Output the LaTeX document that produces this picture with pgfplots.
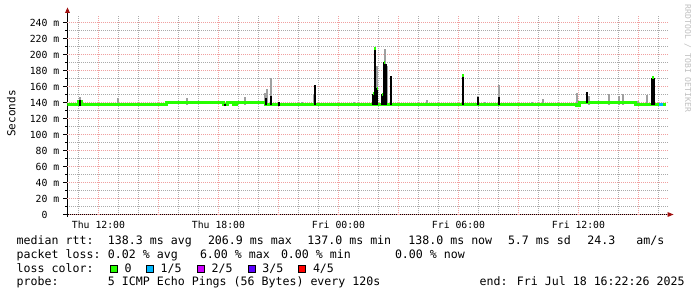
\documentclass[border=0pt]{standalone}
\usepackage{pgfplots}
\pgfplotsset{compat=1.18}
\usepackage{fontspec}
\setmainfont{DejaVu Sans Mono}
\definecolor{medgreen}{HTML}{26FF00}
\definecolor{lossblue}{HTML}{00B8FF}
\definecolor{lossmag}{HTML}{CE00FF}
\definecolor{losspurp}{HTML}{5A00FF}
\definecolor{lossred}{HTML}{FF0000}
\definecolor{gridred}{RGB}{240,160,160}
\definecolor{gridgray}{RGB}{170,170,170}
\definecolor{smoke}{RGB}{160,160,160}
\definecolor{arrowred}{HTML}{A01010}
\newcommand\lgd{\fontsize{11.6}{13}\selectfont}
\newcommand\tkf{\fontsize{9.8}{11}\selectfont}
\begin{document}
\begin{tikzpicture}[x=1pt,y=1pt]
\begin{axis}[
  at={(0pt,0pt)}, anchor=south west,
  scale only axis, width=600pt, height=198.4pt,
  xmin=10.45, xmax=40.45, ymin=0, ymax=248,
  axis x line*=bottom, axis y line*=left,
  axis line style={black, line width=1pt},
  % hourly and 10 m grid (gray)
  xtick={11,...,40}, xticklabels={},
  ytick={0,10,...,240}, yticklabels={},
  xtick style={draw=none},
  ytick style={black, line width=1pt},
  tick align=outside, major tick length=2pt,
  grid=major,
  major grid style={draw=gridgray, line width=1pt, dash pattern=on 1pt off 1pt, dash phase=0.5pt},
  % 3-hourly and 20 m grid (red) with labels
  extra x ticks={12,15,...,39},
  extra x tick labels={Thu 12:00,,Thu 18:00,,Fri 00:00,,Fri 06:00,,Fri 12:00,},
  extra x tick style={grid=major, major grid style={draw=gridred, line width=1pt, dash pattern=on 1pt off 1pt, dash phase=0.5pt},
     tick style={draw=none},
     tick label style={font=\tkf, anchor=base, inner sep=0pt, yshift=-12.3pt}},
  extra y ticks={0,20,...,240},
  extra y tick labels={0\phantom{~m},20~m,40~m,60~m,80~m,100~m,120~m,140~m,160~m,180~m,200~m,220~m,240~m},
  extra y tick style={grid=major, major grid style={draw=gridred, line width=1pt, dash pattern=on 1pt off 1pt, dash phase=0.5pt},
     major tick length=4pt, tick style={black, line width=1pt},
     tick label style={font=\tkf, anchor=east, inner sep=0pt, xshift=-4pt}},
  /pgf/number format/assume math mode=true,
]
% smoke
\addplot[smoke, line width=2pt, unbounded coords=jump] coordinates {
(11.08,137) (11.08,146.7) (11.08,nan)
(12.995,137) (12.995,145.9) (12.995,nan)
(16.43,137) (16.43,145) (16.43,nan)
(19.33,137) (19.33,147) (19.33,nan)
(20.305,137) (20.305,151.7) (20.305,nan)
(20.405,137) (20.405,156.7) (20.405,nan)
(20.645,137) (20.645,170.4) (20.645,nan)
(22.18,137) (22.18,140) (22.18,nan)
(22.78,137) (22.78,150.5) (22.78,nan)
(24.78,137) (24.78,141) (24.78,nan)
(25.905,137) (25.905,185) (25.905,nan)
(26.305,137) (26.305,206.4) (26.305,nan)
(26.405,137) (26.405,185) (26.405,nan)
(28.445,137) (28.445,143) (28.445,nan)
(30.995,137) (30.995,147.5) (30.995,nan)
(31.33,137) (31.33,140) (31.33,nan)
(32.045,137) (32.045,161.7) (32.045,nan)
(33.695,137) (33.695,140.5) (33.695,nan)
(34.215,137) (34.215,144) (34.215,nan)
(35.13,137) (35.13,139.5) (35.13,nan)
(35.905,137) (35.905,151.7) (35.905,nan)
(36.53,137) (36.53,148) (36.53,nan)
(37.515,137) (37.515,150.5) (37.515,nan)
(38.03,137) (38.03,147.6) (38.03,nan)
(38.23,137) (38.23,150.5) (38.23,nan)
(38.995,137) (38.995,141.4) (38.995,nan)
(39.415,137) (39.415,149) (39.415,nan)
(39.73,137) (39.73,171)
};
% median (loss 0)
\addplot[const plot, medgreen, line width=3pt] coordinates {
(10.45,137.3) (11.005,141.5) (11.155,137.3) (15.405,139.5) (18.23,137.0)
(18.43,139.5) (18.73,138.0) (18.88,139.5) (20.33,137.3) (35.88,136.8)
(36.03,139.5) (38.83,137.5) (40.03,137.5)
};
\addplot[const plot, medgreen, line width=3pt] coordinates {(40.205,138) (40.38,138)};
% median (loss 1/5)
\addplot[lossblue, line width=3pt] coordinates {(40.03,137.5) (40.205,137.5)};
% median transitions
\addplot[black, line width=2pt, unbounded coords=jump] coordinates {
(11.08,136) (11.08,142.5) (11.08,nan)
(18.28,136.8) (18.38,136.8) (18.38,nan)
(20.355,137) (20.355,146) (20.355,nan)
(20.645,137) (20.645,148) (20.645,nan)
(21.03,135) (21.03,140) (21.03,nan)
(22.83,137) (22.83,161.7) (22.83,nan)
(25.745,137) (25.745,151) (25.745,nan)
(25.815,137) (25.815,208) (25.815,nan)
(25.945,137) (25.945,158) (25.945,nan)
(26.195,137) (26.195,150) (26.195,nan)
(26.28,137) (26.28,190.6) (26.28,nan)
(26.38,137) (26.38,188.6) (26.38,nan)
(26.615,137) (26.615,172.8) (26.615,nan)
(30.215,137) (30.215,174) (30.215,nan)
(30.995,137) (30.995,147) (30.995,nan)
(32.045,137) (32.045,146.4) (32.045,nan)
(36.445,139) (36.445,152.6) (36.445,nan)
(39.665,137) (39.665,171.2) (39.665,nan)
(39.755,137) (39.755,171.2)
};
% median peaks
\addplot[medgreen, line width=3pt, unbounded coords=jump] coordinates {
(25.78,208) (25.85,208) (25.85,nan)
(25.91,158) (25.98,158) (25.98,nan)
(25.71,151) (25.78,151) (25.78,nan)
(26.16,150) (26.23,150) (26.23,nan)
(26.25,190.6) (26.32,190.6) (26.32,nan)
(30.18,174) (30.25,174) (30.25,nan)
(39.67,171.5) (39.75,171.5)
};
\end{axis}
% axis extensions and arrows (axis box is 600pt x 198.4pt at the origin)
\draw[black, line width=1pt] (0pt,0pt) -- (0pt,-3pt);
\draw[black, line width=1pt] (0pt,198.4pt) -- (0pt,201.5pt);
\fill[arrowred] (600pt,2.5pt) -- (606pt,0pt) -- (600pt,-2.5pt) -- cycle;
\fill[arrowred] (-2.5pt,201.5pt) -- (0pt,207pt) -- (2.5pt,201.5pt) -- cycle;
% y label
\node[rotate=90, font=\fontsize{11}{12}\selectfont, inner sep=0pt] at (-56.3pt,101pt) {Seconds};
% watermark
\node[rotate=-90, font=\fontsize{8.1}{9}\selectfont, text=gray!50, inner sep=0pt] at (620.2pt,156pt) {RRDTOOL / TOBI OETIKER};
% legend text
\begin{scope}[every node/.style={anchor=base west, inner sep=0pt, font=\lgd}]
\node at (-51pt,-30pt) {median rtt:};
\node at (40.3pt,-30pt) {138.3 ms avg};
\node at (140.3pt,-30pt) {206.9 ms max};
\node at (239.7pt,-30pt) {137.0 ms min};
\node at (340.7pt,-30pt) {138.0 ms now};
\node at (440.3pt,-30pt) {5.7 ms sd};
\node at (519.7pt,-30pt) {24.3};
\node at (568.7pt,-30pt) {am/s};
\node at (-51pt,-44pt) {packet loss:};
\node at (40.3pt,-44pt) {0.02 \% avg};
\node at (132.3pt,-44pt) {6.00 \% max};
\node at (213.3pt,-44pt) {0.00 \% min};
\node at (327.3pt,-44pt) {0.00 \% now};
\node at (-51pt,-58.3pt) {loss color:};
\node at (57pt,-58.3pt) {0};
\node at (93pt,-58.3pt) {1/5};
\node at (144pt,-58.3pt) {2/5};
\node at (194.7pt,-58.3pt) {3/5};
\node at (245.3pt,-58.3pt) {4/5};
\node at (-51pt,-71.5pt) {probe:};
\node at (40.3pt,-71.5pt) {5 ICMP Echo Pings (56 Bytes) every 120s};
\node at (412pt,-71.5pt) {end: Fri Jul 18 16:22:26 2025};
\end{scope}
\filldraw[fill=medgreen, draw=black, line width=0.8pt] (42.4pt,-57.6pt) rectangle (49.4pt,-50.6pt);
\filldraw[fill=lossblue, draw=black, line width=0.8pt] (79.1pt,-57.6pt) rectangle (86.1pt,-50.6pt);
\filldraw[fill=lossmag, draw=black, line width=0.8pt] (130.1pt,-57.6pt) rectangle (137.1pt,-50.6pt);
\filldraw[fill=losspurp, draw=black, line width=0.8pt] (180.7pt,-57.6pt) rectangle (187.7pt,-50.6pt);
\filldraw[fill=lossred, draw=black, line width=0.8pt] (231.1pt,-57.6pt) rectangle (238.1pt,-50.6pt);
\pgfresetboundingbox
\useasboundingbox (-67.5pt,-82.5pt) rectangle (629.5pt,214.5pt);
\end{tikzpicture}
\end{document}
